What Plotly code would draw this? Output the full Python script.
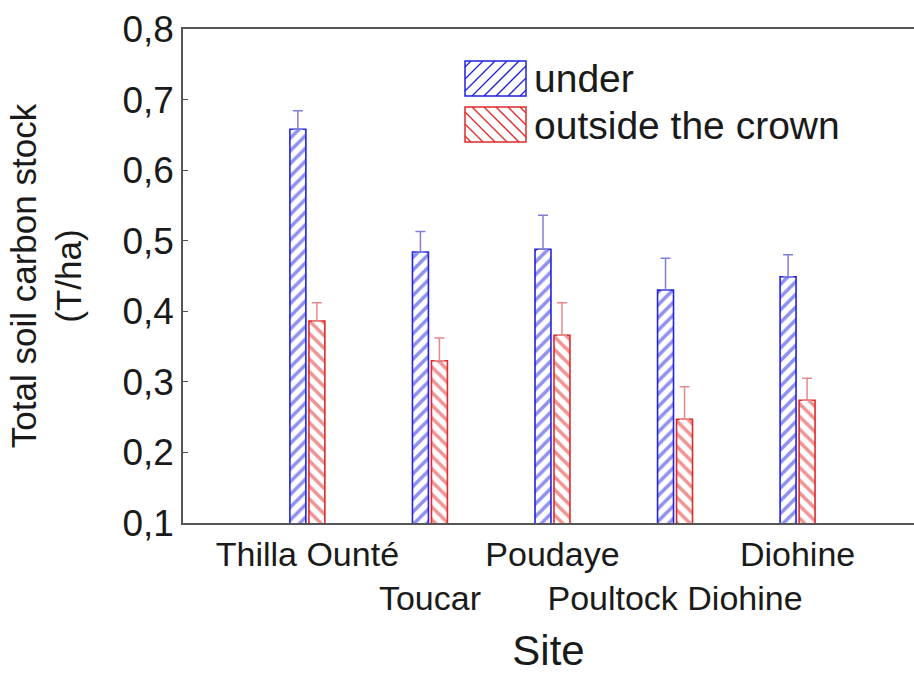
import plotly.graph_objects as go

# Soil carbon stock per site, under vs outside the tree crown
sites = ["Thilla Ounté", "Toucar", "Poudaye", "Poultock Diohine", "Diohine"]
under = [0.658, 0.484, 0.488, 0.430, 0.449]
under_err = [0.026, 0.029, 0.048, 0.045, 0.031]
outside = [0.386, 0.330, 0.366, 0.247, 0.274]
outside_err = [0.026, 0.032, 0.046, 0.046, 0.031]
y_ticks = [0.1, 0.2, 0.3, 0.4, 0.5, 0.6, 0.7, 0.8]

W, H = 914, 674
ML, MR, MT, MB = 183, 0, 29, 151
PW, PH = W - ML - MR, H - MT - MB

BLUE, BLUE_ERR = "#2222e0", "#7f7fd6"
RED, RED_ERR = "#e02a2a", "#e58a8a"
FONT = "Liberation Sans, Arial, sans-serif"

fig = go.Figure()
fig.add_bar(
    x=sites, y=under, name="under", showlegend=False,
    marker=dict(color="white", line=dict(color=BLUE, width=1.6),
                pattern=dict(shape="/", fgcolor=BLUE, bgcolor="white", size=9, solidity=0.4)),
    error_y=dict(type="data", symmetric=False, array=under_err,
                 arrayminus=[0] * len(under), color=BLUE_ERR, thickness=1.5, width=5),
)
fig.add_bar(
    x=sites, y=outside, name="outside the crown", showlegend=False,
    marker=dict(color="white", line=dict(color=RED, width=1.6),
                pattern=dict(shape="\\", fgcolor=RED, bgcolor="white", size=9, solidity=0.4)),
    error_y=dict(type="data", symmetric=False, array=outside_err,
                 arrayminus=[0] * len(outside), color=RED_ERR, thickness=1.5, width=5),
)

# Hand-drawn legend swatches with hatching (pixel -> paper coordinates)
def px(x):
    return (x - ML) / PW

def py(y):
    return 1 - (y - MT) / PH

shapes = []

def swatch(x0, y0, x1, y1, color, forward, step=12):
    shapes.append(dict(type="rect", xref="paper", yref="paper",
                       x0=px(x0), x1=px(x1), y0=py(y0), y1=py(y1),
                       line=dict(color=color, width=1.5), fillcolor="white"))
    if forward:
        c = x0 + y0 + step / 2
        while c < x1 + y1:
            xa, xb = max(x0, c - y1), min(x1, c - y0)
            if xb > xa:
                shapes.append(dict(type="line", xref="paper", yref="paper",
                                   x0=px(xa), y0=py(c - xa), x1=px(xb), y1=py(c - xb),
                                   line=dict(color=color, width=1.3)))
            c += step
    else:
        c = x0 - y1 + step / 2
        while c < x1 - y0:
            xa, xb = max(x0, c + y0), min(x1, c + y1)
            if xb > xa:
                shapes.append(dict(type="line", xref="paper", yref="paper",
                                   x0=px(xa), y0=py(xa - c), x1=px(xb), y1=py(xb - c),
                                   line=dict(color=color, width=1.3)))
            c += step

swatch(465, 61, 526, 96, BLUE, True)
swatch(465, 107, 526, 142, RED, False)

annotations = [
    dict(text="under", xref="paper", yref="paper", x=px(532), y=py(79),
         xanchor="left", yanchor="middle", showarrow=False,
         font=dict(size=39, color="#1a1a1a", family=FONT)),
    dict(text="outside the crown", xref="paper", yref="paper", x=px(532), y=py(125),
         xanchor="left", yanchor="middle", showarrow=False,
         font=dict(size=39, color="#1a1a1a", family=FONT)),
]

ticktext = [s if i % 2 == 0 else "<br>" + s for i, s in enumerate(sites)]

fig.update_layout(
    width=W, height=H,
    margin=dict(l=ML, r=MR, t=MT, b=MB, pad=0),
    paper_bgcolor="white", plot_bgcolor="white",
    barmode="group", bargap=0.69, bargroupgap=0.16,
    separators=", ",
    font=dict(family=FONT, color="#1a1a1a"),
    shapes=shapes, annotations=annotations,
    xaxis=dict(
        type="category", range=[-1.015, 4.95], automargin=False,
        tickmode="array", tickvals=sites, ticktext=ticktext, tickangle=0,
        tickfont=dict(size=34), ticks="", showgrid=False,
        showline=True, linecolor="#555555", linewidth=1.5, mirror=True,
        title=dict(text="Site", font=dict(size=42), standoff=33),
    ),
    yaxis=dict(
        range=[0.1, 0.8], automargin=False,
        tickmode="array", tickvals=y_ticks, tickformat=".1f",
        tickfont=dict(size=37), ticks="inside", ticklen=5, tickcolor="#555555",
        showgrid=False, zeroline=False,
        showline=True, linecolor="#555555", linewidth=1.5,
        title=dict(text="Total soil carbon stock<br>(T/ha)", font=dict(size=35), standoff=30),
    ),
)

fig.write_html("out.html")
